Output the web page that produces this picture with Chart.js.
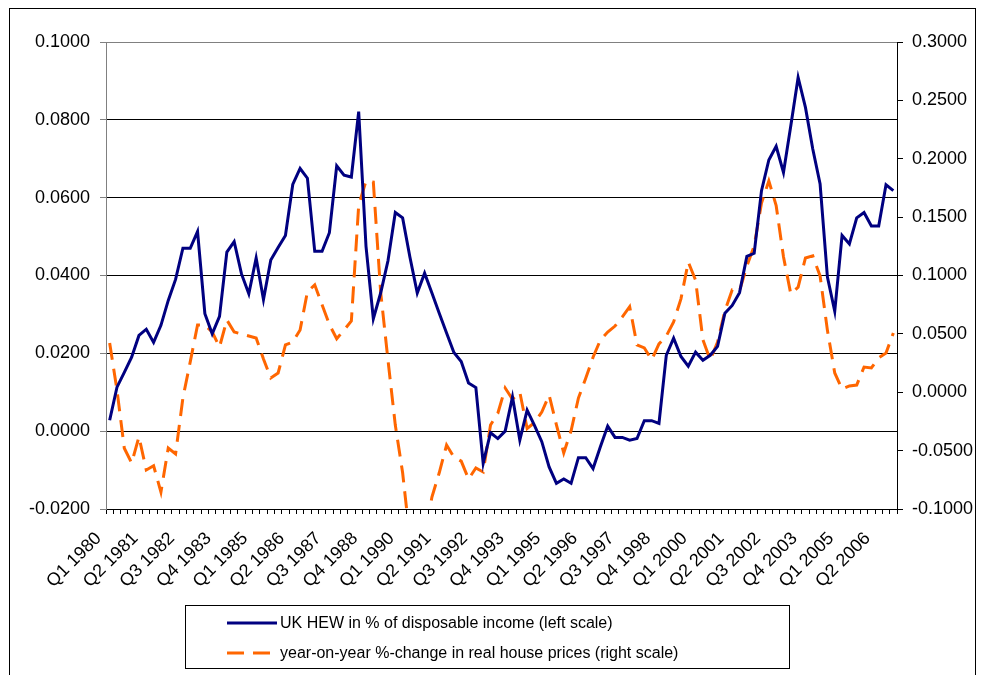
<!DOCTYPE html>
<html>
<head>
<meta charset="utf-8">
<script src="https://cdn.jsdelivr.net/npm/chart.js@4.4.1/dist/chart.umd.min.js"></script>
<style>
  html, body { margin: 0; padding: 0; background: #fff; }
  #wrap { position: relative; width: 982px; height: 675px; }
</style>
</head>
<body>
<div id="wrap"><canvas id="chart" width="982" height="675"></canvas></div>
<script>
// quarters Q1 1980 .. Q4 2006
const firstYear = 1980;
const lastYear = 2006;
const quarters = [];
for (let y = firstYear; y <= lastYear; y++) {
    for (let q = 1; q <= 4; q++) quarters.push("Q" + q + " " + y);
}

// UK housing equity withdrawal, share of disposable income (left scale)
const hew = [
    0.0028, 0.0113, 0.0151, 0.0190, 0.0246, 0.0262, 0.0228, 0.0272, 0.0336, 0.0390,
    0.0470, 0.0470, 0.0513, 0.0302, 0.0250, 0.0295, 0.0460, 0.0487, 0.0404, 0.0353,
    0.0445, 0.0338, 0.0440, 0.0472, 0.0503, 0.0634, 0.0675, 0.0650, 0.0462, 0.0462,
    0.0510, 0.0682, 0.0658, 0.0653, 0.0821, 0.0475, 0.0289, 0.0355, 0.0438, 0.0562,
    0.0548, 0.0447, 0.0355, 0.0406, 0.0355, 0.0303, 0.0252, 0.0202, 0.0179, 0.0124,
    0.0112, -0.0083, -0.0004, -0.0019, 0.0000, 0.0088, -0.0023, 0.0054, 0.0015, -0.0027,
    -0.0092, -0.0134, -0.0123, -0.0134, -0.0068, -0.0068, -0.0096, -0.0040, 0.0013, -0.0016,
    -0.0016, -0.0023, -0.0019, 0.0027, 0.0027, 0.0020, 0.0195, 0.0239, 0.0192, 0.0167,
    0.0203, 0.0182, 0.0195, 0.0218, 0.0303, 0.0323, 0.0356, 0.0449, 0.0457, 0.0618,
    0.0697, 0.0732, 0.0665, 0.0785, 0.0909, 0.0832, 0.0725, 0.0635, 0.0396, 0.0308,
    0.0503, 0.0481, 0.0548, 0.0562, 0.0527, 0.0527, 0.0633, 0.0618
];

// year-on-year change in real house prices (right scale)
const housePrices = [
    0.0422, 0.0019, -0.0480, -0.0606, -0.0382, -0.0666, -0.0630, -0.0855, -0.0478, -0.0529,
    -0.0049, 0.0260, 0.0576, 0.0576, 0.0516, 0.0388, 0.0619, 0.0516, 0.0499, 0.0482,
    0.0465, 0.0285, 0.0122, 0.0165, 0.0405, 0.0430, 0.0533, 0.0860, 0.0920, 0.0750,
    0.0580, 0.0458, 0.0533, 0.0610, 0.1600, 0.1810, 0.1800, 0.0858, 0.0276, -0.0281,
    -0.0690, -0.1260, -0.1430, -0.1260, -0.0897, -0.0690, -0.0452, -0.0555, -0.0590, -0.0743,
    -0.0649, -0.0683, -0.0280, -0.0180, 0.0036, -0.0060, 0.0000, -0.0310, -0.0260, -0.0170,
    -0.0024, -0.0280, -0.0520, -0.0330, -0.0050, 0.0120, 0.0300, 0.0447, 0.0516, 0.0567,
    0.0645, 0.0733, 0.0405, 0.0380, 0.0277, 0.0414, 0.0482, 0.0602, 0.0800, 0.1116,
    0.0960, 0.0450, 0.0277, 0.0430, 0.0697, 0.0877, 0.0868, 0.1080, 0.1253, 0.1620,
    0.1810, 0.1600, 0.1160, 0.0842, 0.0900, 0.1150, 0.1168, 0.0996, 0.0530, 0.0165,
    0.0028, 0.0054, 0.0062, 0.0216, 0.0208, 0.0294, 0.0336, 0.0508
];

const hewLabel = "UK HEW in % of disposable income (left scale)";
const priceLabel = "year-on-year %-change in real house prices (right scale)";

const leftTicks = { min: -0.02, max: 0.1, step: 0.02 };
const rightTicks = { min: -0.1, max: 0.3, step: 0.05 };

const fontFamily = "'Liberation Sans', Arial, sans-serif";
const tickFont = { family: fontFamily, size: 18 };

// white background and outer frame
const framePlugin = {
    id: "frame",
    beforeDraw(chart) {
        const c = chart.ctx;
        c.save();
        c.fillStyle = "#fff";
        c.fillRect(0, 0, chart.width, chart.height);
        c.strokeStyle = "#000";
        c.lineWidth = 1;
        c.strokeRect(9.5, 8.5, 966, 700);
        c.restore();
    }
};

// boxed legend under the axis labels
const boxLegend = {
    id: "boxLegend",
    afterDraw(chart) {
        const c = chart.ctx;
        c.save();
        c.strokeStyle = "#000";
        c.lineWidth = 1;
        c.strokeRect(185.5, 605.5, 604, 63);
        c.font = "16px " + fontFamily;
        c.textBaseline = "middle";
        c.fillStyle = "#000";
        chart.data.datasets.forEach((ds, i) => {
            const y = 623 + i * 30;
            c.beginPath();
            c.strokeStyle = ds.borderColor;
            c.lineWidth = ds.borderWidth;
            c.setLineDash(ds.borderDash || []);
            c.moveTo(227, y);
            c.lineTo(277, y);
            c.stroke();
            c.setLineDash([]);
            c.fillText(ds.label, 280, y + 1);
        });
        c.restore();
    }
};

const ctx = document.getElementById("chart").getContext("2d");

const chart = new Chart(ctx, {
    type: "line",
    data: {
        labels: quarters,
        datasets: [{
            label: hewLabel,
            data: hew,
            yAxisID: "y",
            borderColor: "#000080",
            borderWidth: 3,
            pointRadius: 0,
            tension: 0
        }, {
            label: priceLabel,
            data: housePrices,
            yAxisID: "y1",
            borderColor: "#FF6600",
            borderWidth: 3,
            borderDash: [17, 9],
            pointRadius: 0,
            tension: 0
        }]
    },
    options: {
        responsive: false,
        animation: false,
        layout: { padding: { left: 0, right: 0, top: 42, bottom: 76 } },
        plugins: {
            legend: { display: false },
            tooltip: { enabled: false }
        },
        scales: {
            x: {
                offset: true,
                grid: { offset: true, drawOnChartArea: false, tickLength: 5, color: "#000" },
                border: { color: "#000" },
                ticks: {
                    autoSkip: false,
                    minRotation: 45,
                    maxRotation: 45,
                    padding: 14,
                    labelOffset: -11,
                    color: "#000",
                    font: tickFont,
                    callback: (v, i) => (i % 5 === 0 ? quarters[i] : "")
                },
                afterFit: s => { s.height = 90; }
            },
            y: {
                position: "left",
                min: leftTicks.min,
                max: leftTicks.max,
                ticks: {
                    stepSize: leftTicks.step,
                    padding: 10,
                    color: "#000",
                    font: tickFont,
                    callback: v => v.toFixed(4)
                },
                grid: {
                    tickLength: 6,
                    color: c => (c.tick && Math.abs(c.tick.value - leftTicks.max) < 1e-9 ? "#808080" : "#000"),
                    tickColor: "#808080"
                },
                border: { color: "#808080" },
                afterFit: s => { s.width = 106; }
            },
            y1: {
                position: "right",
                min: rightTicks.min,
                max: rightTicks.max,
                ticks: {
                    stepSize: rightTicks.step,
                    padding: 9,
                    color: "#000",
                    font: tickFont,
                    callback: v => v.toFixed(4)
                },
                grid: { drawOnChartArea: false, tickLength: 6, color: "#000" },
                border: { color: "#000" },
                afterFit: s => { s.width = 85; }
            }
        }
    },
    plugins: [framePlugin, boxLegend]
});
</script>
</body>
</html>
